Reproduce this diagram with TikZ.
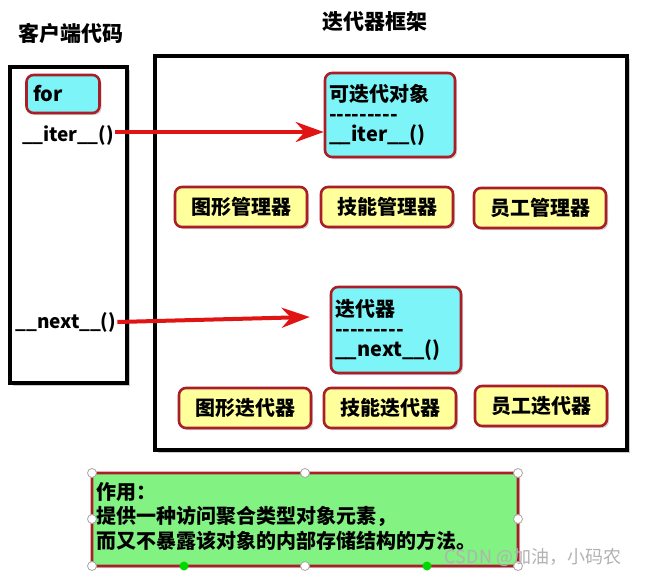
\documentclass[tikz,border=0pt]{standalone}
\usepackage{fontspec}
\setmainfont{Noto Sans CJK SC}
\usepackage{tikz}
\usepackage{xcolor}
\usetikzlibrary{arrows.meta, positioning, shadows}
\definecolor{boxred}{RGB}{170,30,40}
\definecolor{cyanfill}{RGB}{125,245,248}
\definecolor{yellowfill}{RGB}{255,255,155}
\definecolor{greenfill}{RGB}{130,242,130}
\definecolor{arrowred}{RGB}{225,20,20}
\newcommand{\dashrow}{-{}-{}-{}-{}-{}-{}-{}-{}-}
\newcommand{\uu}{\_\kern-0.5pt\_}

\begin{document}
\begin{tikzpicture}[x=1pt, y=-1pt,
    base/.style={rounded corners=7pt, line width=2.6pt, draw=boxred,
                 inner sep=4pt, font=\fontsize{20}{23}\selectfont\bfseries,
                 drop shadow={shadow xshift=2pt, shadow yshift=-2pt, opacity=.35}},
    obj/.style={base, fill=cyanfill, align=left, text width=#1},
    obj/.default=122pt,
    mgr/.style={base, fill=yellowfill, minimum width=132pt, minimum height=40pt},
    frame/.style={line width=4pt, draw=black,
                  drop shadow={shadow xshift=3pt, shadow yshift=-3pt, opacity=.4}},
    meth/.style={font=\fontsize{19}{22}\selectfont\bfseries, inner sep=1pt},
    title/.style={font=\fontsize{21}{24}\selectfont\bfseries, inner sep=1pt},
    line/.style={-{Stealth[length=28pt, width=20pt]}, line width=4pt, draw=arrowred},
    handle/.style={circle, draw=gray!70, fill=white, line width=0.8pt,
                   minimum size=9pt, inner sep=0pt},
    grip/.style={circle, fill=green!85!black, minimum size=9pt, inner sep=0pt}]

    \useasboundingbox (0,0) rectangle (646,576);

    % Titles
    \node[title] (tcli) at (71,33) {客户端代码};
    \node[title] (tfw)  at (375,22) {迭代器框架};

    % Frames
    \draw[frame, fill=white] (10,67) rectangle (127,383);
    \draw[frame, fill=white] (155,56) rectangle (627,450);

    % Client code
    \node[base, fill=cyanfill, minimum width=73pt, minimum height=38pt,
          text width=60pt, align=left] (for) at (63,94) {for};
    \node[meth] (iterm) at (68,135) {\uu iter\uu()};
    \node[meth] (nextm) at (66,322) {\uu next\uu()};

    % Iterable and iterator
    \node[obj, minimum height=84pt] (itb) at (390,115)
        {可迭代对象\\[-3pt]\dashrow\\[-3pt]\uu iter\uu()};
    \node[obj, minimum height=86pt] (itr) at (396,330)
        {迭代器\\[-3pt]\dashrow\\[-3pt]\uu next\uu()};

    % Managers
    \node[mgr] (m1) at (241,207) {图形管理器};
    \node[mgr] (m2) at (387,207) {技能管理器};
    \node[mgr] (m3) at (540,208) {员工管理器};

    % Iterators
    \node[mgr] (i1) at (245,408) {图形迭代器};
    \node[mgr] (i2) at (390,408) {技能迭代器};
    \node[mgr] (i3) at (541,406) {员工迭代器};

    \draw[line] ([yshift=3pt]iterm.east) -- ([yshift=3pt]iterm.east -| itb.west);
    \draw[line] (nextm.east) -- ([xshift=-20pt,yshift=5pt]nextm.east -| itr.west);

    % Note
    \node[base, fill=greenfill, rounded corners=4pt, minimum width=426pt,
          minimum height=93pt, text width=414pt, align=left, inner sep=3pt,
          font=\fontsize{20}{23}\selectfont\bfseries] (note) at (305,519.5) {};
    \node[font=\fontsize{20}{23.5}\selectfont\bfseries, align=left, inner sep=0pt,
          anchor=north west] (notetxt) at (96,482)
        {作用：\\[1pt]提供一种访问聚合类型对象元素，\\[1pt]而又不暴露该对象的内部存储结构的方法。};
    \foreach \hx/\hy [count=\k] in {92/473, 305/473, 518/473, 92/519,
                                    518/519, 92/566, 305/566, 518/566}
        \node[handle] (h\k) at (\hx,\hy) {};
    \node[grip] (g1) at (184,566) {};
    \node[grip] (g2) at (427,566) {};

    \node[font=\fontsize{18}{20}\selectfont, text=gray!60] (wm) at (533,557)
        {CSDN @加油，小码农};
\end{tikzpicture}
\end{document}
